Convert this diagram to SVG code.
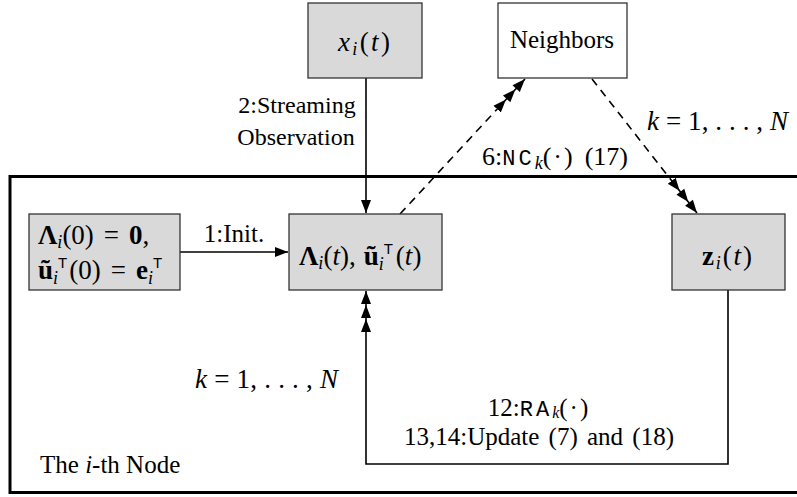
<svg xmlns="http://www.w3.org/2000/svg" width="797" height="497" viewBox="0 0 797 497">
<style>
.box{fill:#d9d9d9;stroke:#333;stroke-width:1.3}
.wbox{fill:#fff;stroke:#333;stroke-width:1.3}
.frame{fill:none;stroke:#000;stroke-width:3}
.ln{fill:none;stroke:#000;stroke-width:1.6}
.dash{fill:none;stroke:#000;stroke-width:1.6;stroke-dasharray:8 6}
text{font-family:"Liberation Serif","Times New Roman",serif;font-size:25px;fill:#000}
.m{font-size:27px}
.it{font-style:italic}
.bf{font-weight:bold}
.sub{font-size:18px;font-style:italic}
.sf{font-family:"Liberation Sans",Arial,sans-serif;font-size:15px}
.tt{font-family:"Liberation Mono","Courier New",monospace;font-size:22px;letter-spacing:3px}
</style>
<defs>
<marker id="a1" markerUnits="userSpaceOnUse" markerWidth="14" markerHeight="12" viewBox="0 -6 14 12" refX="13" refY="0" orient="auto">
<path d="M0,-5 L13,0 L0,5 z" fill="#000"/>
</marker>
<marker id="a3" markerUnits="userSpaceOnUse" markerWidth="42" markerHeight="12" viewBox="-28 -6 42 12" refX="13" refY="0" orient="auto">
<path d="M0,-5 L13,0 L0,5 z M-14,-5 L-1,0 L-14,5 z M-28,-5 L-15,0 L-28,5 z" fill="#000"/>
</marker>
</defs>

<rect class="frame" x="10" y="176.5" width="800" height="316"/>

<g id="connectors">
<line class="ln" x1="366" y1="78" x2="366" y2="213" marker-end="url(#a1)"/>
<line class="ln" x1="180" y1="252" x2="288" y2="252" marker-end="url(#a1)"/>
<line class="dash" x1="400" y1="214" x2="525" y2="79" marker-end="url(#a3)"/>
<line class="dash" x1="592" y1="79" x2="697" y2="213" marker-end="url(#a3)"/>
<polyline class="ln" points="728,290 728,464 366,464 366,291" marker-end="url(#a3)"/>
</g>

<g id="x_i">
<rect class="box" x="308" y="3" width="114" height="75"/>
<text class="m" x="338" y="51" textLength="52" lengthAdjust="spacing"><tspan class="it">x</tspan><tspan class="sub" dy="4">i</tspan><tspan dy="-4">(</tspan><tspan class="it">t</tspan>)</text>
</g>

<g id="neighbors">
<rect class="wbox" x="498" y="3" width="129" height="75"/>
<text x="562" y="48" text-anchor="middle">Neighbors</text>
</g>

<g id="init">
<rect class="box" x="29" y="214" width="151" height="76"/>
<text class="m" x="38" y="244"><tspan class="bf">Λ</tspan><tspan class="sub" dy="4">i</tspan><tspan dy="-4">(0)</tspan><tspan dx="10">=</tspan><tspan class="bf" dx="10">0</tspan>,</text>
<text class="m" x="38" y="279"><tspan class="bf">ũ</tspan><tspan class="sub" dy="5">i</tspan><tspan class="sf" dy="-16">T</tspan><tspan dx="2" dy="11">(0)</tspan><tspan dx="10">=</tspan><tspan class="bf" dx="10">e</tspan><tspan class="sub" dy="5">i</tspan><tspan class="sf" dy="-16">T</tspan></text>
</g>

<g id="lambda">
<rect class="box" x="289" y="214" width="153" height="76"/>
<text class="m" x="299" y="265"><tspan class="bf">Λ</tspan><tspan class="sub" dy="4">i</tspan><tspan dy="-4">(</tspan><tspan class="it">t</tspan>),<tspan class="bf" dx="8">ũ</tspan><tspan class="sub" dy="5">i</tspan><tspan class="sf" dy="-16">T</tspan><tspan dx="3" dy="11">(</tspan><tspan class="it">t</tspan>)</text>
</g>

<g id="z_i">
<rect class="box" x="672" y="214" width="113" height="76"/>
<text class="m" x="702" y="265" textLength="50" lengthAdjust="spacing"><tspan class="bf">z</tspan><tspan class="sub" dy="4">i</tspan><tspan dy="-4">(</tspan><tspan class="it">t</tspan>)</text>
</g>

<g id="labels">
<text x="297" y="113" text-anchor="middle" style="font-size:24px">2:Streaming</text>
<text x="296" y="145" text-anchor="middle" style="font-size:24px">Observation</text>
<text x="234" y="242" text-anchor="middle">1:Init.</text>
<text x="482" y="165" style="font-size:26px">6:<tspan class="tt">NC</tspan><tspan class="sub" dy="4">k</tspan><tspan dy="-4">(</tspan><tspan dx="2">·</tspan><tspan dx="2">)</tspan><tspan dx="12">(17)</tspan></text>
<text class="m" x="647" y="130" textLength="141" lengthAdjust="spacing"><tspan class="it">k</tspan> = 1, . . . , <tspan class="it">N</tspan></text>
<text class="m" x="195" y="388" textLength="143" lengthAdjust="spacing"><tspan class="it">k</tspan> = 1, . . . , <tspan class="it">N</tspan></text>
<text x="538" y="416" text-anchor="middle">12:<tspan class="tt">RA</tspan><tspan class="sub" style="font-size:16px" dy="2">k</tspan><tspan dy="-2">(</tspan><tspan dx="2">·</tspan><tspan dx="2">)</tspan></text>
<text x="539" y="445" text-anchor="middle" style="word-spacing:3px">13,14:Update (7) and (18)</text>
<text x="40" y="473">The <tspan class="it">i</tspan>-th Node</text>
</g>
</svg>
